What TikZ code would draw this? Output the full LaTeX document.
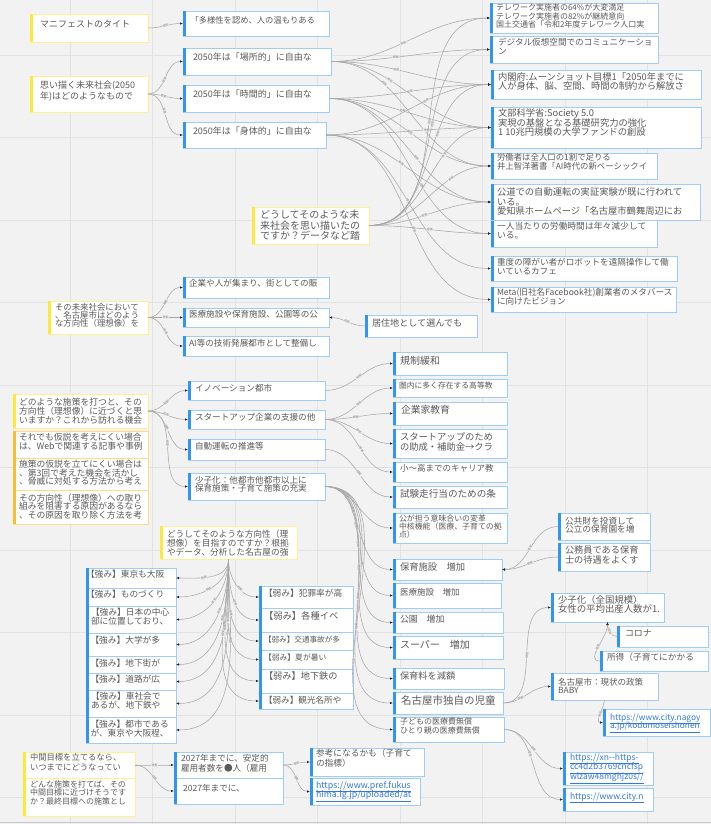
\documentclass[tikz,border=0pt]{standalone}
\usepackage{fontspec}
\setmainfont{Noto Sans CJK JP}
\usetikzlibrary{arrows.meta}
\definecolor{bgc}{RGB}{242,242,242}
\definecolor{gridc}{RGB}{226,226,226}
\definecolor{bbord}{RGB}{160,205,245}
\definecolor{bbar}{RGB}{50,150,240}
\definecolor{ybord}{RGB}{255,240,150}
\definecolor{ybar}{RGB}{255,232,60}
\definecolor{obord}{RGB}{252,220,140}
\definecolor{obar}{RGB}{246,190,50}
\definecolor{txtc}{RGB}{90,90,90}
\definecolor{linkc}{RGB}{50,120,230}
\definecolor{edgec}{RGB}{168,168,168}
\definecolor{tipc}{RGB}{40,40,40}
\definecolor{lblc}{RGB}{130,130,130}
\tikzset{
  boxB/.style={draw=bbord, fill=white, line width=0.8pt, inner sep=0pt, outer sep=0pt},
  boxY/.style={draw=ybord, fill=white, line width=0.8pt, inner sep=0pt, outer sep=0pt},
  boxO/.style={draw=obord, fill=white, line width=0.8pt, inner sep=0pt, outer sep=0pt},
  barB/.style={fill=bbar}, barY/.style={fill=ybar}, barO/.style={fill=obar},
  txt/.style={inner sep=0pt, outer sep=0pt, align=left, text=txtc},
  fs/.style 2 args={font={\fontsize{#1}{#2}\selectfont\lineskiplimit=-50pt\relax}},
  pd/.style 2 args={xshift=#1pt, yshift=-#2pt},
  ed/.style={draw=edgec, line width=0.55pt, -{Latex[length=3pt,width=2.4pt,color=tipc]}},
  lb/.style={font=\fontsize{3}{3}\selectfont, text=lblc, sloped, inner sep=0.4pt, fill=bgc},
}
% name, x, y, w, h, kind, text options, text
\newcommand\nodebox[8]{%
  \node[box#6, minimum width=#4pt, minimum height=#5pt, anchor=north west] (#1) at (#2,#3) {};
  \begin{scope}
    \clip ([xshift=1pt]#1.north west) rectangle ([xshift=-0.6pt]#1.south east);
    \node[txt, anchor=north west, #7] at (#1.north west) {#8};
  \end{scope}
  \fill[bar#6] (#1.north west) rectangle ([xshift=2.5pt]#1.south west);
}
\begin{document}
\begin{tikzpicture}[x=1pt,y=-1pt]
\useasboundingbox (0,0) rectangle (711,824);
\fill[bgc] (0,0) rectangle (711,824);
\foreach \gx in {70,152.5,...,711} {\draw[gridc, line width=0.8pt] (\gx,0) -- (\gx,824);}
\foreach \gy in {55,137.5,...,824} {\draw[gridc, line width=0.8pt] (0,\gy) -- (711,\gy);}
\draw[gray!45, line width=1pt] (0,822.5) -- (711,822.5);

% ---------- yellow / orange question nodes
\nodebox{y1}{30}{14}{118}{28}{Y}{fs={9}{11},pd={10}{6}}{マニフェストのタイト}
\nodebox{y2}{30}{76}{118}{36}{Y}{fs={9}{11},pd={10}{5}}{思い描く未来社会(2050\\年)はどのようなもので}
\nodebox{y3}{252}{207}{117}{37}{Y}{fs={10}{10.5},pd={8}{3.5}}{どうしてそのような未\\来社会を思い描いたの\\ですか？データなど踏}
\nodebox{y4}{48}{301}{100}{33}{Y}{fs={8.4}{8.3},pd={7}{2}}{その未来社会において\\、名古屋市はどのよう\\な方向性（理想像）を}
\nodebox{y5}{13}{394}{135}{34}{Y}{fs={8.8}{9.3},pd={6}{3.7}}{どのような施策を打つと、その\\方向性（理想像）に近づくと思\\いますか？これから訪れる機会}
\nodebox{o6}{13}{431}{135}{27}{O}{fs={8.8}{8.8},pd={6}{2}}{それでも仮説を考えにくい場合\\は、Webで関連する記事や事例}
\nodebox{o7}{13}{458}{135}{32}{O}{fs={8.8}{8.6},pd={6}{2}}{施策の仮説を立てにくい場合は\\、第3回で考えた機会を活かし\\、脅威に対処する方法から考え}
\nodebox{o8}{13}{490}{135}{34}{O}{fs={8.8}{8.7},pd={6}{3.7}}{その方向性（理想像）への取り\\組みを阻害する原因があるなら\\、その原因を取り除く方法を考}
\nodebox{y9}{160}{526}{137}{33}{Y}{fs={8.7}{8.9},pd={7}{4}}{どうしてそのような方向性（理\\想像）を目指すのですか？根拠\\やデータ、分析した名古屋の強}
\nodebox{y10}{23}{752}{112}{26}{Y}{fs={8.3}{10},pd={7}{2}}{中間目標を立てるなら、\\いつまでにどうなってい}
\nodebox{y11}{23}{778}{112}{38}{Y}{fs={8}{8.6},pd={7}{2.4}}{どんな施策を打てば、その\\中間目標に近づけそうです\\か？最終目標への施策とし}

% ---------- top blue nodes
\nodebox{b0}{183}{11}{146}{25}{B}{fs={8.3}{10},pd={7.5}{5.3}}{「多様性を認め、人の温もりある}
\nodebox{b1}{183}{48}{148}{27}{B}{fs={9}{10},pd={10}{4.8}}{2050年は「場所的」に自由な}
\nodebox{b2}{183}{85}{146}{27}{B}{fs={9}{10},pd={10}{5.2}}{2050年は「時間的」に自由な}
\nodebox{b3}{183}{122}{143}{26}{B}{fs={9}{10},pd={10}{4.5}}{2050年は「身体的」に自由な}

% ---------- right column (reasons)
\nodebox{r1}{490}{3}{168}{30}{B}{fs={8}{8.8},pd={6}{0.5}}{テレワーク実施者の64\%が大変満足\\テレワーク実施者の82\%が継続意向\\国土交通省「令和2年度テレワーク人口実}
\nodebox{r2}{490}{36}{168}{27}{B}{fs={8.6}{8.7},pd={8}{2.4}}{デジタル仮想空間でのコミュニケーショ\\ン}
\nodebox{r3}{491}{70}{210}{29}{B}{fs={9.3}{8.9},pd={7}{3}}{内閣府:ムーンショット目標1「2050年までに\\人が身体、脳、空間、時間の制約から解放さ}
\nodebox{r4}{491}{107}{210}{41}{B}{fs={9.3}{9.5},pd={7}{2}}{文部科学省:Society 5.0\\実現の基盤となる基礎研究力の強化\\1 10兆円規模の大学ファンドの創設}
\nodebox{r5}{491}{153}{166}{26}{B}{fs={8.4}{9.3},pd={6}{0.5}}{労働者は全人口の1割で足りる\\井上智洋著書「AI時代の新ベーシックイ}
\nodebox{r7}{491}{220}{166}{27}{B}{fs={8.8}{9},pd={6}{2}}{一人当たりの労働時間は年々減少して\\いる。}
\nodebox{r6}{491}{184}{209}{36}{B}{fs={9.3}{9.3},pd={6}{4}}{公道での自動運転の実証実験が既に行われて\\いる。\\愛知県ホームページ「名古屋市鶴舞周辺にお}
\nodebox{r8}{491}{256}{186}{25}{B}{fs={8.6}{9},pd={6}{1.8}}{重度の障がい者がロボットを遠隔操作して働\\いているカフェ}
\nodebox{r9}{491}{287}{185}{25}{B}{fs={8.6}{9.3},pd={6}{0.8}}{Meta(旧社名Facebook社)創業者のメタバース\\に向けたビジョン}

% ---------- direction nodes
\nodebox{c1}{183}{277}{146}{21}{B}{fs={8.6}{10},pd={6}{2.4}}{企業や人が集まり、街としての賑}
\nodebox{c2}{183}{308}{146}{19}{B}{fs={8.6}{10},pd={6}{2.4}}{医療施設や保育施設、公園等の公}
\nodebox{c3}{183}{336}{146}{20}{B}{fs={8.6}{10},pd={6}{2.8}}{AI等の技術発展都市として整備し}
\nodebox{c4}{365}{315}{112}{22}{B}{fs={9.1}{10},pd={7}{3.6}}{居住地として選んでも}

% ---------- policy nodes
\nodebox{d1}{188}{381}{137}{19}{B}{fs={8.6}{10},pd={7}{2.8}}{イノベーション都市}
\nodebox{d2}{188}{410}{137}{19}{B}{fs={8.6}{10},pd={7}{2.8}}{スタートアップ企業の支援の他}
\nodebox{d3}{188}{439}{137}{21}{B}{fs={8.6}{10},pd={7}{3}}{自動運転の推進等}
\nodebox{d4}{188}{473}{137}{27}{B}{fs={8.6}{8.7},pd={7}{3}}{少子化：他都市他都市以上に\\保育施策・子育て施策の充実}

\nodebox{e1}{393}{352}{114}{23}{B}{fs={10}{11},pd={7}{3.7}}{規制緩和}
\nodebox{e2}{393}{379}{114}{18}{B}{fs={7.8}{9},pd={6}{3.2}}{圏内に多く存在する高等教}
\nodebox{e3}{393}{402}{114}{23}{B}{fs={9.8}{11},pd={8}{3.6}}{企業家教育}
\nodebox{e4}{393}{429}{114}{29}{B}{fs={9.3}{9.4},pd={7}{4.1}}{スタートアップのため\\の助成・補助金→クラ}
\nodebox{e5}{393}{462}{114}{20}{B}{fs={8.5}{10},pd={7}{2.5}}{小～高までのキャリア教}
\nodebox{e6}{393}{486}{114}{22}{B}{fs={9.6}{10},pd={7}{3.7}}{試験走行当のための条}
\nodebox{e7}{393}{513}{114}{30}{B}{fs={7.9}{8.3},pd={6}{1.7}}{公が担う意味合いの変革\\中核機能（医療、子育ての拠\\点）}

\nodebox{f1}{393}{559}{109}{21}{B}{fs={9.3}{10},pd={7}{3.5}}{保育施設　増加}
\nodebox{f2}{393}{583}{108}{25}{B}{fs={8.5}{10},pd={7}{4.9}}{医療施設　増加}
\nodebox{f3}{393}{612}{110}{21}{B}{fs={8.9}{10},pd={7}{3}}{公園　増加}
\nodebox{f4}{393}{636}{110}{23}{B}{fs={10}{11},pd={7}{3.8}}{スーパー　増加}
\nodebox{f5}{393}{668}{111}{21}{B}{fs={9.2}{10},pd={7}{3.9}}{保育料を減額}
\nodebox{f6}{393}{692}{110}{22}{B}{fs={10.5}{11},pd={8}{4}}{名古屋市独自の児童}
\nodebox{f7}{393}{717}{111}{25}{B}{fs={8}{8.4},pd={7}{1}}{子どもの医療費無償\\ひとり親の医療費無償}

\nodebox{g1}{558}{513}{92}{27}{B}{fs={8.7}{8.8},pd={7}{3.8}}{公共財を投資して\\公立の保育園を増}
\nodebox{g2}{558}{543}{92}{28}{B}{fs={9.2}{9.4},pd={7}{2.9}}{公務員である保育\\士の待遇をよくす}
\nodebox{g3}{551}{593}{113}{29}{B}{fs={9.4}{9.2},pd={7}{2}}{少子化（全国規模）\\女性の平均出産人数が1.}
\nodebox{g4}{617}{626}{91}{21}{B}{fs={8.9}{10},pd={8}{4}}{コロナ}
\nodebox{g5}{600}{651}{108}{20}{B}{fs={8.7}{10},pd={7}{2.4}}{所得（子育てにかかる}
\nodebox{g6}{551}{673}{107}{27}{B}{fs={8.5}{8.6},pd={7}{4.9}}{名古屋市：現状の政策\\BABY}
\nodebox{g7}{603}{709}{107}{27}{B}{fs={8.3}{8.8},pd={7}{4.5},text=linkc}{\underline{https://www.city.nagoy}\\\underline{a.jp/kodomoseishonen}}
\nodebox{h1}{563}{752}{90}{33}{B}{fs={8.5}{9.6},pd={7}{1.5},text=linkc}{\underline{https://xn-{}-https-}\\\underline{cc4d2b3769cncfsp}\\\underline{wlzaw48mghjz0s//}}
\nodebox{h2}{563}{788}{90}{23}{B}{fs={8.5}{9},pd={7}{4.4},text=linkc}{\underline{https://www.city.n}}

% ---------- bottom nodes
\nodebox{i1}{174}{752}{109}{26}{B}{fs={8.6}{9.4},pd={7}{2.4}}{2027年までに、安定的\\雇用者数を●人（雇用}
\nodebox{i2}{174}{778}{109}{26}{B}{fs={8.6}{10},pd={9}{5.8}}{2027年までに、}
\nodebox{j1}{310}{748}{114}{28}{B}{fs={8.7}{9.2},pd={6}{1.4}}{参考になるかも（子育て\\の指標）}
\nodebox{j2}{310}{778}{110}{27}{B}{fs={8.8}{9},pd={6}{3},text=linkc}{\underline{https://www.pref.fukus}\\\underline{hima.lg.jp/uploaded/at}}

% ---------- strengths / weaknesses
\nodebox{s1}{86}{568}{90}{20}{B}{fs={8.7}{9},pd={0}{2.4}}{【強み】東京も大阪}
\nodebox{s2}{86}{588}{90}{18}{B}{fs={8.7}{9},pd={0}{2.1}}{【強み】ものづくり}
\nodebox{s3}{86}{606}{90}{27}{B}{fs={8.7}{9.2},pd={5}{1.8}}{【強み】日本の中心\\部に位置しており、}
\nodebox{s4}{86}{633}{90}{23}{B}{fs={8.7}{9},pd={4.5}{3.1}}{【強み】大学が多}
\nodebox{s5}{86}{656}{90}{17}{B}{fs={8.7}{9},pd={4.5}{2.8}}{【強み】地下街が}
\nodebox{s6}{86}{673}{90}{17}{B}{fs={8.7}{9},pd={4.5}{2.4}}{【強み】道路が広}
\nodebox{s7}{86}{690}{90}{27}{B}{fs={8.7}{9.3},pd={5}{1.8}}{【強み】車社会で\\あるが、地下鉄や}
\nodebox{s8}{86}{717}{90}{26}{B}{fs={8.7}{9.2},pd={4.5}{3}}{【強み】都市である\\が、東京や大阪程、}

\nodebox{w1}{259}{586}{94}{22}{B}{fs={8.7}{10},pd={5}{2.8}}{【弱み】犯罪率が高}
\nodebox{w2}{259}{608}{94}{24}{B}{fs={9.3}{10},pd={5}{3.5}}{【弱み】各種イベ}
\nodebox{w3}{259}{632}{94}{18}{B}{fs={7.6}{9},pd={5}{3.6}}{【弱み】交通事故が多}
\nodebox{w4}{259}{650}{94}{19}{B}{fs={7.8}{9},pd={5}{3.8}}{【弱み】夏が暑い}
\nodebox{w5}{259}{669}{94}{24}{B}{fs={9.2}{10},pd={5}{2.9}}{【弱み】地下鉄の}
\nodebox{w6}{259}{693}{94}{16}{B}{fs={8.6}{10},pd={5}{3.4}}{【弱み】観光名所や}

% ---------- connectors
\draw[ed] (y1.east) to[out=0,in=180] node[lb]{根拠} (b0.west);
\foreach \t in {b1,b2,b3} {\draw[ed] (y2.east) to[out=0,in=180] node[lb,pos=.45]{根拠} (\t.west);}
\foreach \t/\p in {r1/.45,r2/.4,r3/.4,r4/.35,r5/.3} {\draw[ed] (b1.east) to[out=0,in=180] node[lb,pos=\p]{根拠} (\t.west);}
\foreach \t/\p in {r3/.5,r4/.45,r5/.5,r6/.55,r7/.6} {\draw[ed] (b2.east) to[out=0,in=180] node[lb,pos=\p]{根拠} (\t.west);}
\foreach \t/\p in {r3/.62,r4/.62,r6/.45,r8/.5,r9/.55} {\draw[ed] (b3.east) to[out=0,in=180] node[lb,pos=\p]{根拠} (\t.west);}
\foreach \t/\p in {r1/.5,r2/.55,r3/.6,r4/.65,r5/.7,r6/.45,r7/.5} {\draw[ed] (y3.east) to[out=0,in=180] node[lb,pos=\p]{根拠} (\t.west);}
\foreach \t in {c1,c2,c3} {\draw[ed] (y4.east) to[out=0,in=180] node[lb]{根拠} (\t.west);}
\draw[ed] (c4.west) to[out=180,in=0] node[lb]{根拠} (c2.east);
\foreach \t in {d1,d2,d3,d4} {\draw[ed] (y5.east) to[out=0,in=180] node[lb,pos=.45]{根拠} (\t.west);}
\draw[ed] (d1.east) to[out=0,in=180] node[lb]{根拠} (e1.west);
\foreach \t/\p in {e2/.5,e3/.45,e4/.5,e5/.55} {\draw[ed] (d2.east) to[out=0,in=180] node[lb,pos=\p]{根拠} (\t.west);}
\draw[ed] (d3.east) to[out=0,in=180] node[lb]{根拠} (e6.west);
\foreach \t/\p in {e7/.3,f1/.35,f2/.4,f3/.45,f4/.5,f5/.55,f6/.6,f7/.65} {\draw[ed] (d4.east) to[out=0,in=180] node[lb,pos=\p]{根拠} (\t.west);}
\draw[ed] (g1.west) to[out=180,in=0] node[lb]{根拠} (f1.east);
\draw[ed] (g2.west) to[out=180,in=0] node[lb]{根拠} (f1.east);
\draw[ed] (f6.east) to[out=0,in=180] node[lb]{根拠} (g3.west);
\draw[ed] (f6.east) to[out=0,in=180] node[lb,pos=.35]{根拠} (g6.west);
\draw[ed] (g4.west) to[out=180,in=-90] node[lb]{根拠} (g3.south);
\draw[ed] (g5.west) to[out=180,in=-90] node[lb]{根拠} (g3.south);
\draw[ed] (g6.south) to[out=-95,in=180] node[lb]{根拠} (g7.west);
\draw[ed] (f7.east) to[out=0,in=180] node[lb]{根拠} (h1.west);
\draw[ed] (f7.east) to[out=0,in=180] node[lb,pos=.4]{根拠} (h2.west);
\draw[ed] (y10.east) to[out=0,in=180] node[lb]{根拠} (i1.west);
\draw[ed] (y10.east) to[out=0,in=180] node[lb]{根拠} (i2.west);
\draw[ed] (i1.east) to[out=0,in=180] node[lb]{根拠} (j1.west);
\draw[ed] (i1.east) to[out=0,in=180] node[lb]{根拠} (j2.west);
\foreach \t/\p in {s1/.6,s2/.55,s3/.5,s4/.45,s5/.42,s6/.4,s7/.38,s8/.36} {\draw[ed] (y9.south) to[out=-90,in=0] node[lb,pos=\p]{根拠} (\t.east);}
\foreach \t/\p in {w1/.6,w2/.55,w3/.5,w4/.46,w5/.43,w6/.4} {\draw[ed] (y9.south) to[out=-90,in=180] node[lb,pos=\p]{根拠} (\t.west);}
\end{tikzpicture}
\end{document}
